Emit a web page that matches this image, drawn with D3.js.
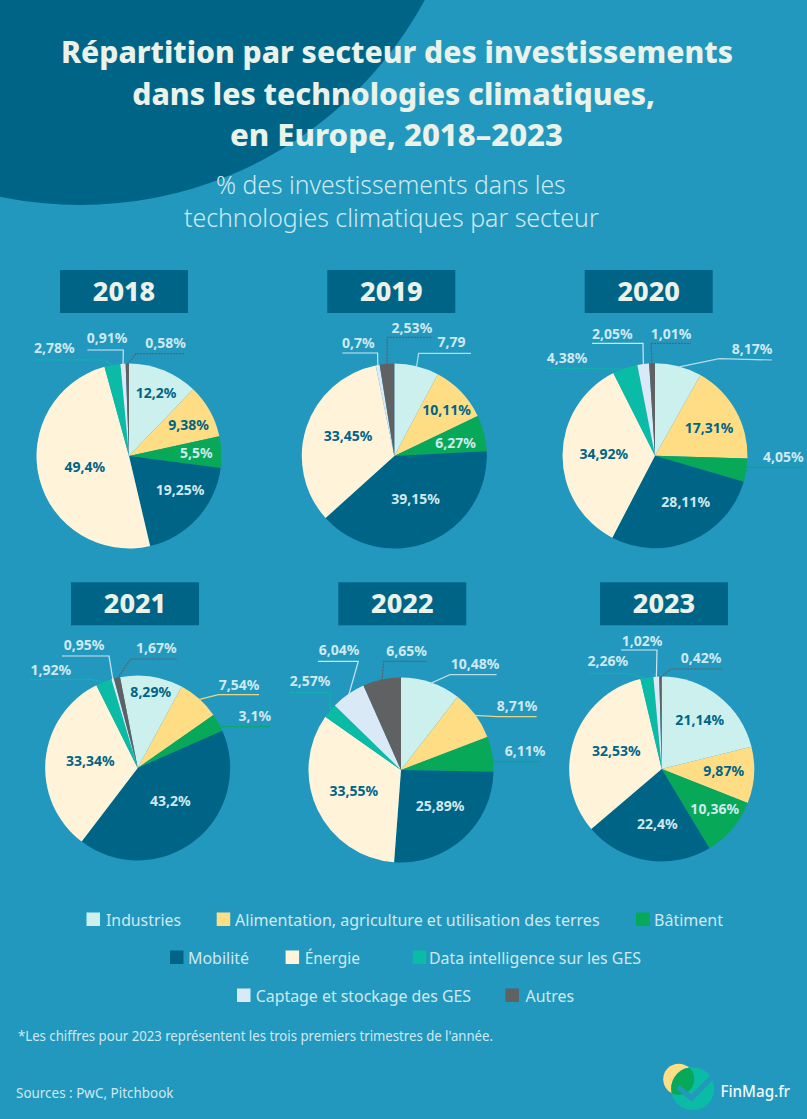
<!DOCTYPE html>
<html lang="fr">
<head>
<meta charset="utf-8">
<title>Répartition par secteur des investissements</title>
<script src="https://cdn.jsdelivr.net/npm/d3@7/dist/d3.min.js"></script>
<style>
  html, body { margin: 0; padding: 0; background: #2298bf; }
  svg { display: block; font-family: "Noto Sans", "Open Sans", sans-serif; font-variant-ligatures: none; }
</style>
</head>
<body>
<svg id="chart" width="807" height="1119"></svg>
<script>
// data
const sectors = ["Industries", "Alimentation, agriculture et utilisation des terres", "Bâtiment",
  "Mobilité", "Énergie", "Data intelligence sur les GES", "Captage et stockage des GES", "Autres"];
const sectorColors = ["#cbf0ee", "#ffdd85", "#07a858", "#006487", "#fff4da", "#0abba5", "#d9e9f5", "#5f6162"];
const leaderColors = ["#b5dce8", "#e6d68a", "#0aa86c", "#006487", "#fff4da", "#0abba5", "#cfe6f2", "#5f6162"];

const years = [2018, 2019, 2020, 2021, 2022, 2023];
const values2018 = [12.2, 9.38, 5.5, 19.25, 49.4, 2.78, 0.91, 0.58];
const values2019 = [7.79, 10.11, 6.27, 39.15, 33.45, 0, 0.7, 2.53];
const values2020 = [8.17, 17.31, 4.05, 28.11, 34.92, 4.38, 2.05, 1.01];
// 2021: the printed slices do not follow the printed labels, so these are read off the arcs
const values2021 = [10.94, 7.39, 3.11, 41.97, 32.28, 2.78, 0.45, 1.08];
const values2022 = [10.48, 8.71, 6.11, 25.89, 33.55, 2.57, 6.04, 6.65];
const values2023 = [21.14, 9.87, 10.36, 22.4, 32.53, 2.26, 1.02, 0.42];
const allValues = [values2018, values2019, values2020, values2021, values2022, values2023];

const labels2018 = ["12,2%", "9,38%", "5,5%", "19,25%", "49,4%", "2,78%", "0,91%", "0,58%"];
const labels2019 = ["7,79", "10,11%", "6,27%", "39,15%", "33,45%", "", "0,7%", "2,53%"];
const labels2020 = ["8,17%", "17,31%", "4,05%", "28,11%", "34,92%", "4,38%", "2,05%", "1,01%"];
const labels2021 = ["8,29%", "7,54%", "3,1%", "43,2%", "33,34%", "1,92%", "0,95%", "1,67%"];
const labels2022 = ["10,48%", "8,71%", "6,11%", "25,89%", "33,55%", "2,57%", "6,04%", "6,65%"];
const labels2023 = ["21,14%", "9,87%", "10,36%", "22,4%", "32,53%", "2,26%", "1,02%", "0,42%"];
const allLabels = [labels2018, labels2019, labels2020, labels2021, labels2022, labels2023];

// layout
const radius = 92.5;
const pieCenters = [[129, 456], [394.3, 456], [655, 455.7], [137.7, 768], [401, 770], [661.7, 769]];
const pieStarts = [0, 0, 0, -11, 0, 0];
const yearBoxX = [60, 327.3, 584.7, 71, 338.3, 600];
const yearBoxY = [270, 270, 270, 582.3, 582.3, 582.3];

// labels inside the pie: [sector, dx, dy] from the centre
const insideLabels = [
  [[0, 27, -62.7], [1, 59.7, -31], [2, 67.3, -2.7], [3, 51, 34], [4, -44.3, 11.3]],
  [[1, 52.3, -45.7], [2, 61.3, -13.3], [3, 21.3, 43], [4, -46.3, -20]],
  [[1, 54, -27.3], [3, 30.7, 46.7], [4, -51.3, -2]],
  [[0, 13, -75.7], [3, 32.7, 32.7], [4, -47.3, -7]],
  [[3, 39, 36], [4, -47.3, 20.7]],
  [[0, 38, -49], [1, 62, 2], [2, 53, 40], [3, -4.3, 54.7], [4, -45.3, -18]]
];

// callouts: [sector, text x, text baseline, elbow x, elbow y, end x, end y] from the centre
const callouts = [
  [[5, -95, -102.7, -24, -96, -95, -96], [6, -42.3, -112.7, -5.7, -106, -41.7, -106], [7, 16.3, -107.7, 7, -102.3, 56.3, -102.3]],
  [[0, 43.3, -109.3, 24.3, -102.7, 76.7, -102.7], [6, -52.3, -108.3, -16.7, -103, -52, -103], [7, -2.7, -123.3, -7, -118.7, 38, -118.7]],
  [[0, 76.7, -102, 64.3, -97, 117, -95.7], [2, 108, 6.3, 92, 11.7, 148.7, 11.7], [5, -108.3, -92.3, -61.3, -87.3, -108, -87.3],
   [6, -63, -116.7, -12, -112.3, -63, -112.3], [7, -4.3, -116.7, -4, -112.3, 36, -112.3]],
  [[1, 81, -78, 80.7, -73.3, 121.3, -73.3], [2, 100.7, -46.7, 84, -41.3, 132.3, -41.3], [5, -107.3, -93, -46, -88.7, -108.3, -88.7],
   [6, -74, -118, -28.7, -112, -75.7, -112], [7, -1.7, -114.7, -7, -109, 39, -109]],
  [[0, 49.7, -100.7, 49, -95.3, 95.7, -95.3], [1, 95.7, -58.7, 96.7, -53.3, 135.7, -53.3], [2, 103.7, -14, 93, -8.3, 139, -8.3],
   [5, -111.3, -84.3, -71, -77.3, -111.7, -77.3], [6, -82.3, -115.3, -42.7, -108.7, -83, -108.7], [7, -14.7, -114, -17.3, -108.7, 25.7, -108.7]],
  [[5, -74.3, -103, -34, -95.7, -74.7, -95.7], [6, -40, -122.7, -4.7, -119, -40.7, -119], [7, 19, -105.7, 9.3, -100, 61, -100]]
];

// legend: swatch x, text x, text width, row y, in sector order
const legendSwatchX = [86.5, 216.7, 636, 170, 285.6, 412.7, 237, 505.4];
const legendTextX = [106, 235, 654, 188, 304.7, 429, 255.8, 525.5];
const legendTextW = [75, 364.6, 69, 61, 55.3, 212, 215.2, 48.5];
const legendY = [912.5, 912.5, 912.5, 950.5, 950.5, 950.5, 988.5, 988.5];

const titleLines = ["Répartition par secteur des investissements", "dans les technologies climatiques,", "en Europe, 2018–2023"];
const subtitleLines = ["% des investissements dans les", "technologies climatiques par secteur"];

const bg = "#2298bf", dark = "#006487", cream = "#eaf2ea", pale = "#cfe9f0";
const svg = d3.select("#chart");

// set width exactly: the installed font runs wider than the reference one
function fit(sel, width) {
  return sel.attr("textLength", width).attr("lengthAdjust", "spacingAndGlyphs");
}

svg.append("rect").attr("width", 807).attr("height", 1119).attr("fill", bg);
svg.append("ellipse").attr("cx", 80).attr("cy", -186).attr("rx", 392).attr("ry", 391).attr("fill", dark);

// title
const titleX = [61, 132.3, 230], titleW = [672, 522.7, 333], titleY = [63.3, 104.5, 145.5];
titleLines.forEach((t, i) => {
  svg.append("text").attr("x", titleX[i]).attr("y", titleY[i])
    .attr("font-size", 30).attr("font-weight", 800).attr("fill", cream)
    .text(t).call(fit, titleW[i]);
});
const subX = [216, 184], subW = [349.7, 414.7], subY = [194, 226.7];
subtitleLines.forEach((t, i) => {
  svg.append("text").attr("x", subX[i]).attr("y", subY[i])
    .attr("font-size", 25).attr("font-weight", 300).attr("fill", pale)
    .text(t).call(fit, subW[i]);
});

// pies
const arc = d3.arc().innerRadius(0).outerRadius(radius);
const rim = d3.arc().innerRadius(radius - 1).outerRadius(radius - 1);
const leader = d3.line();

years.forEach((year, y) => {
  svg.append("rect").attr("x", yearBoxX[y]).attr("y", yearBoxY[y]).attr("width", 128).attr("height", 43)
    .attr("fill", dark);
  svg.append("text").attr("x", yearBoxX[y] + 64).attr("y", yearBoxY[y] + 31)
    .attr("text-anchor", "middle").attr("font-size", 27).attr("font-weight", 800).attr("fill", cream)
    .text(year);

  const start = pieStarts[y] * Math.PI / 180;
  const pie = d3.pie().sort(null).startAngle(start).endAngle(start + 2 * Math.PI);
  const slices = pie(allValues[y]);
  const labels = allLabels[y];
  const g = svg.append("g").attr("transform", `translate(${pieCenters[y][0]},${pieCenters[y][1]})`);

  g.selectAll("path.slice").data(slices).join("path")
    .attr("class", "slice")
    .attr("d", arc)
    .attr("fill", (d, i) => sectorColors[i]);

  g.selectAll("path.leader").data(callouts[y]).join("path")
    .attr("class", "leader")
    .attr("fill", "none")
    .attr("stroke", d => leaderColors[d[0]])
    .attr("stroke-width", 1.2)
    .attr("stroke-dasharray", d => d[0] === 5 || d[0] === 7 ? "2 1" : null)
    .attr("d", d => leader([rim.centroid(slices[d[0]]), [d[3], d[4]], [d[5], d[6]]]));

  g.selectAll("text.callout").data(callouts[y]).join("text")
    .attr("class", "callout")
    .attr("x", d => d[1]).attr("y", d => d[2])
    .attr("font-size", 14).attr("font-weight", 700).attr("fill", pale)
    .text(d => labels[d[0]]);

  g.selectAll("text.inside").data(insideLabels[y]).join("text")
    .attr("class", "inside")
    .attr("x", d => d[1]).attr("y", d => d[2]).attr("dy", ".35em")
    .attr("text-anchor", "middle")
    .attr("font-size", 14).attr("font-weight", 700)
    .attr("fill", d => d[0] === 2 || d[0] === 3 ? pale : dark)
    .text(d => labels[d[0]]);
});

// legend
sectors.forEach((s, i) => {
  svg.append("rect").attr("x", legendSwatchX[i]).attr("y", legendY[i]).attr("width", 13.5).attr("height", 13.5)
    .attr("fill", sectorColors[i]);
  svg.append("text").attr("x", legendTextX[i]).attr("y", legendY[i] + 13)
    .attr("font-size", 17).attr("fill", pale)
    .text(s).call(fit, legendTextW[i]);
});

// footnotes
svg.append("text").attr("x", 18).attr("y", 1040.7).attr("font-size", 14.5).attr("fill", pale)
  .text("*Les chiffres pour 2023 représentent les trois premiers trimestres de l'année.").call(fit, 475);
svg.append("text").attr("x", 16).attr("y", 1098.3).attr("font-size", 15).attr("fill", pale)
  .text("Sources : PwC, Pitchbook").call(fit, 157.5);

// logo
const logo = svg.append("g");
logo.append("clipPath").attr("id", "logoClip").append("circle").attr("cx", 678.7).attr("cy", 1079.3).attr("r", 15.5);
logo.append("circle").attr("cx", 678.7).attr("cy", 1079.3).attr("r", 15.5).attr("fill", "#ffdd85");
logo.append("circle").attr("cx", 692.7).attr("cy", 1088.7).attr("r", 21.5).attr("fill", "#0abba5");
logo.append("circle").attr("cx", 692.7).attr("cy", 1088.7).attr("r", 21.5).attr("fill", "#07a858").attr("clip-path", "url(#logoClip)");
logo.append("path").attr("d", d3.line()([[678, 1087], [691.5, 1098], [714, 1075]]))
  .attr("fill", "none").attr("stroke", bg).attr("stroke-width", 5);
svg.append("text").attr("x", 720.5).attr("y", 1097).attr("font-size", 16.5).attr("font-weight", 500).attr("fill", "#f2f8f8")
  .text("FinMag.fr").call(fit, 69.5);
</script>
</body>
</html>
